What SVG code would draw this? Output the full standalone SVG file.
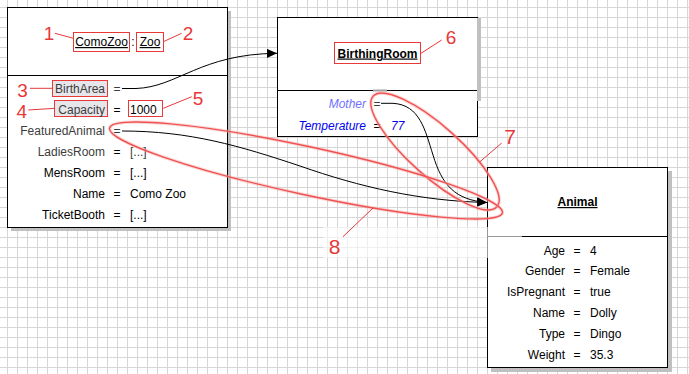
<svg xmlns="http://www.w3.org/2000/svg" width="689" height="374" viewBox="0 0 689 374">
<defs>
<pattern id="grid" x="7" y="7" width="10" height="10" patternUnits="userSpaceOnUse">
<rect width="1" height="10" fill="#d6d6d6"/>
<rect width="10" height="1" fill="#d6d6d6"/>
</pattern>
<marker id="arrow" markerUnits="userSpaceOnUse" markerWidth="10" markerHeight="10" refX="10" refY="4.5" orient="auto">
<path d="M0,0 L10,4.5 L0,9 z" fill="#000"/>
</marker>
<style>
text{font-family:"Liberation Sans",Arial,sans-serif;font-size:12px;fill:#000}
.box{fill:#fff;stroke:#000;stroke-width:1}
.shadow{fill:#c0c0c0}
.div{stroke:#000;stroke-width:1}
.r{text-anchor:end}
.m{text-anchor:middle}
.u{text-decoration:underline}
.b{font-weight:bold}
.g{fill:#3c3c3c}
.it{font-style:italic;fill:#0000ee}
.it2{font-style:italic;fill:#7070ff}
.hl{fill:none;stroke:#e83838;stroke-width:1}
.hlg{fill:#e6e6ea;stroke:#e83838;stroke-width:1}
.num{font-size:19px;fill:#e83838;text-anchor:middle}
.num2{font-size:21px;fill:#e83838;text-anchor:middle}
.lead{stroke:#e83838;stroke-width:1;fill:none}
.ell{fill:none;stroke:#f05252;stroke-width:1.4}
.ellg{fill:none;stroke:#f6a8a8;stroke-width:3.5;opacity:0.45}
.conn{fill:none;stroke:#000;stroke-width:1}
</style>
</defs>
<rect width="689" height="374" fill="#fff"/>
<rect width="689" height="374" fill="url(#grid)"/>

<g id="node-comozoo">
<rect class="shadow" x="11" y="11" width="220" height="220"/>
<rect class="box" x="7.5" y="7.5" width="220" height="220"/>
<line class="div" x1="7.5" y1="75.5" x2="227.5" y2="75.5"/>
<rect class="hl" x="73.5" y="32.5" width="56" height="19"/>
<rect class="hl" x="136.5" y="32.5" width="27" height="19"/>
<text class="m u" x="101.5" y="46">ComoZoo</text>
<text class="m" x="133" y="46">:</text>
<text class="m u" x="150" y="46">Zoo</text>
<rect class="hlg" x="52.5" y="80.5" width="55" height="16"/>
<rect class="hlg" x="54.5" y="100.5" width="53" height="16"/>
<rect class="hl" x="128.5" y="100.5" width="34" height="16"/>
<text class="r g" x="105" y="93">BirthArea</text>
<text class="m g" x="117" y="93">=</text>
<text class="r g" x="105" y="113.5">Capacity</text>
<text class="m" x="117" y="113.5">=</text>
<text x="130" y="113.5">1000</text>
<text class="r g" x="105" y="135">FeaturedAnimal</text>
<text class="m g" x="117" y="135">=</text>
<text class="r g" x="105" y="156">LadiesRoom</text>
<text class="m" x="117" y="156">=</text>
<text class="g" x="130" y="156">[...]</text>
<text class="r" x="105" y="177">MensRoom</text>
<text class="m" x="117" y="177">=</text>
<text x="130" y="177">[...]</text>
<text class="r" x="105" y="198">Name</text>
<text class="m" x="117" y="198">=</text>
<text x="130" y="198">Como Zoo</text>
<text class="r" x="105" y="219">TicketBooth</text>
<text class="m" x="117" y="219">=</text>
<text x="130" y="219">[...]</text>
</g>

<g id="node-birthingroom">
<rect class="box" x="277.5" y="17.5" width="200" height="119"/>
<line class="div" x1="277.5" y1="90.5" x2="477.5" y2="90.5"/>
<rect class="shadow" x="477" y="18" width="4" height="83"/>
<line x1="373" y1="90.5" x2="387" y2="90.5" stroke="#a0a0a0" stroke-width="2"/>
<rect class="hl" x="334.5" y="42.5" width="86" height="21"/>
<text class="m b u" x="377.5" y="57.5">BirthingRoom</text>
<text class="r it2" x="366" y="107.5">Mother</text>
<text class="m g" x="377" y="107.5">=</text>
<text class="r it" x="366" y="129.5">Temperature</text>
<text class="m" x="377" y="129.5">=</text>
<text class="it" x="391" y="129.5">77</text>
</g>

<g id="node-animal">
<rect class="shadow" x="491" y="171" width="181" height="201"/>
<rect class="box" x="487.5" y="167.5" width="180" height="200"/>
<line class="div" x1="487.5" y1="236.5" x2="667.5" y2="236.5"/>
<text class="m b u" x="577.5" y="206">Animal</text>
<text class="r" x="565" y="254.5">Age</text>
<text class="m" x="577" y="254.5">=</text>
<text x="590" y="254.5">4</text>
<text class="r" x="565" y="275">Gender</text>
<text class="m" x="577" y="275">=</text>
<text x="590" y="275">Female</text>
<text class="r" x="565" y="296">IsPregnant</text>
<text class="m" x="577" y="296">=</text>
<text x="590" y="296">true</text>
<text class="r" x="565" y="317">Name</text>
<text class="m" x="577" y="317">=</text>
<text x="590" y="317">Dolly</text>
<text class="r" x="565" y="338">Type</text>
<text class="m" x="577" y="338">=</text>
<text x="590" y="338">Dingo</text>
<text class="r" x="565" y="359">Weight</text>
<text class="m" x="577" y="359">=</text>
<text x="590" y="359">35.3</text>
</g>

<g id="connectors">
<path class="conn" d="M122,88.5 L136,88.5 C178,87 200,54 277,53.3" marker-end="url(#arrow)"/>
<path class="conn" d="M122,131 C190,131 240,146 300,166 C360,187 420,201 487,202.5" marker-end="url(#arrow)"/>
<path class="conn" d="M381,103.3 L393,103.3 C420,105 425,130 433,155 C442,185 455,200 487,202.5" marker-end="url(#arrow)"/>
</g>

<rect x="323" y="227" width="199" height="31" fill="#fff" opacity="0.6"/>

<g id="annotations">
<ellipse class="ellg" cx="435" cy="151.5" rx="83" ry="25" transform="rotate(41.8 435 151.5)"/>
<ellipse class="ell" cx="435" cy="151.5" rx="83" ry="25" transform="rotate(41.8 435 151.5)"/>
<ellipse class="ellg" cx="306" cy="170.5" rx="201" ry="24" transform="rotate(12.2 306 170.5)"/>
<ellipse class="ell" cx="306" cy="170.5" rx="201" ry="24" transform="rotate(12.2 306 170.5)"/>
<line class="lead" x1="55" y1="33.3" x2="73.3" y2="38.3"/>
<line class="lead" x1="163.3" y1="41.7" x2="181.7" y2="33.3"/>
<line class="lead" x1="30" y1="88.3" x2="52" y2="88.3"/>
<line class="lead" x1="28.3" y1="110" x2="55" y2="108.3"/>
<line class="lead" x1="163.3" y1="108.3" x2="191.7" y2="96.7"/>
<line class="lead" x1="421" y1="53.3" x2="441.7" y2="40"/>
<line class="lead" x1="501.7" y1="143" x2="480" y2="161.7"/>
<line class="lead" x1="343" y1="236.7" x2="373" y2="208"/>
<text class="num" x="49" y="40">1</text>
<text class="num" x="188" y="40">2</text>
<text class="num" x="22.5" y="97">3</text>
<text class="num" x="21.7" y="118">4</text>
<text class="num" x="198" y="105">5</text>
<text class="num" x="451" y="43.5">6</text>
<text class="num2" x="510" y="143.5">7</text>
<text class="num2" x="334.5" y="254">8</text>
</g>
</svg>
